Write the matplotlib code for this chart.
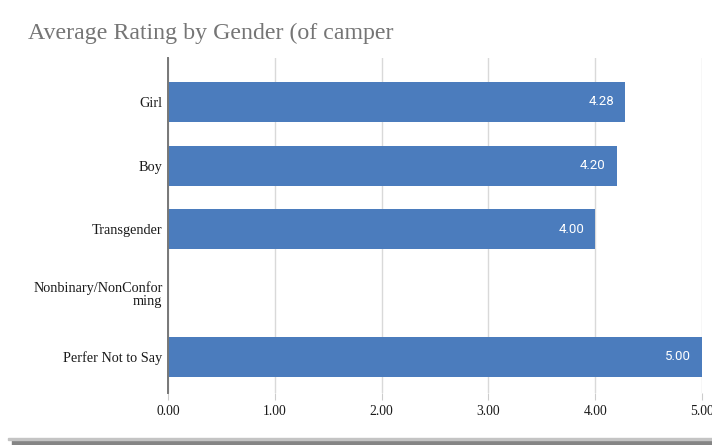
import numpy as np
import matplotlib
matplotlib.use("Agg")
import matplotlib.pyplot as plt
from matplotlib.patches import Rectangle

categories = ["Girl", "Boy", "Transgender", "Nonbinary/NonConfor\nming", "Perfer Not to Say"]
ratings = [4.28, 4.20, 4.00, np.nan, 5.00]
xticks = [0, 1, 2, 3, 4, 5]

bar_color = "#4b7cbd"
serif = ["Liberation Serif", "DejaVu Serif"]

fig = plt.figure(figsize=(7.12, 4.45), dpi=100)
ax = fig.add_axes([0.236, 0.117, 0.750, 0.753])

y = np.arange(len(categories))
vals = np.nan_to_num(ratings)
ax.barh(y, vals, height=0.63, color=bar_color, zorder=3)

for yi, v in zip(y, ratings):
    if np.isnan(v):
        continue
    ax.annotate(f"{v:.2f}", (v, yi), xytext=(-8, 0), textcoords="offset points",
                ha="right", va="center", color="white", fontsize=9.5,
                family=["Roboto", "DejaVu Sans"], zorder=4)

ax.set_xlim(0, 5)
ax.set_ylim(4.565, -0.69)
ax.set_yticks(y)
ax.set_yticklabels(categories, family=serif, fontsize=10.3, color="#1a1a1a",
                   linespacing=0.95)
ax.set_xticks(xticks)
ax.set_xticklabels([f"{t:.2f}" for t in xticks], family=serif, fontsize=9.8, color="#1a1a1a")

ax.grid(axis="x", color="#d9d9d9", linewidth=1, zorder=0)
ax.tick_params(axis="y", length=0, pad=4)
ax.tick_params(axis="x", length=5, color="#cccccc", pad=4)
for s in ["top", "right", "bottom"]:
    ax.spines[s].set_visible(False)
ax.spines["left"].set_color("#777777")
ax.spines["left"].set_linewidth(1.4)
ax.spines["left"].set_zorder(5)

fig.text(28 / 712, 1 - 33 / 445, "Average Rating by Gender (of camper",
         family=serif, fontsize=17.2, color="#757575", va="center", ha="left")

# frame edge along the bottom
fig.patches.append(Rectangle((12 / 712, 0), 1, 5 / 445, transform=fig.transFigure,
                             color="#858585", zorder=0))
fig.patches.append(Rectangle((8 / 712, 5 / 445), 1, 2 / 445, transform=fig.transFigure,
                             color="#c4c4c4", zorder=0))

fig.savefig("out.png", dpi=100)
